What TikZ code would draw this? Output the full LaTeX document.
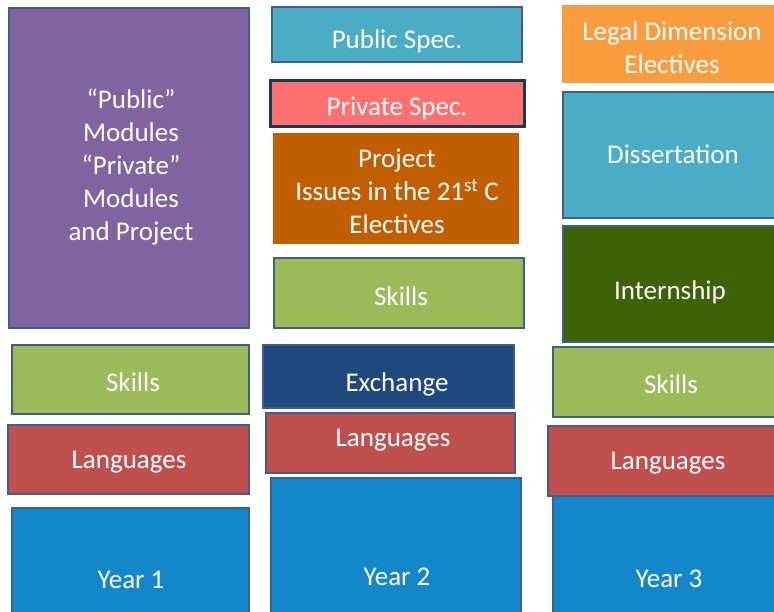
\documentclass[tikz,border=0pt]{standalone}
\usepackage{fontspec}
\setmainfont{Carlito}
\begin{document}
\begin{tikzpicture}[x=1pt,y=-1pt,
  box/.style={draw=bordc,line width=2pt,inner sep=0pt,rectangle},
  plain/.style={draw=none,inner sep=0pt,rectangle},
  txt/.style={text=white,font=\fontsize{27}{33}\selectfont,align=center,inner sep=0pt,yshift=-1.5pt}]
\definecolor{bordc}{HTML}{3C5F8E}
\definecolor{purp}{HTML}{8064A2}
\definecolor{teal}{HTML}{4BACC6}
\definecolor{pink}{HTML}{FF7070}
\definecolor{pinkb}{HTML}{173B57}
\definecolor{projc}{HTML}{C05E00}
\definecolor{skillc}{HTML}{9BBB59}
\definecolor{legalc}{HTML}{F99D3F}
\definecolor{interc}{HTML}{3D6306}
\definecolor{exchc}{HTML}{1F497D}
\definecolor{langc}{HTML}{C0504D}
\definecolor{yearc}{HTML}{1387C9}
\useasboundingbox (0,0) rectangle (774,612);
\clip (0,0) rectangle (774,612);
% column 1
\node[box,fill=purp,minimum width=240,minimum height=320] (pub) at (129,168) {};
\node[box,fill=skillc,minimum width=237,minimum height=69] (sk1) at (130.5,379.5) {};
\node[box,fill=langc,minimum width=241,minimum height=69] (la1) at (128.5,459.5) {};
\node[box,fill=yearc,minimum width=237,minimum height=112] (y1) at (130.5,564) {};
% column 2
\node[box,fill=teal,minimum width=250,minimum height=55] (ps) at (397,34.5) {};
\node[box,draw=pinkb,line width=3pt,fill=pink,minimum width=254,minimum height=46] (pr) at (397,104) {};
\node[plain,fill=projc,minimum width=246,minimum height=111] (pj) at (396,188.5) {};
\node[box,fill=skillc,minimum width=250,minimum height=70] (sk2) at (399,293) {};
\node[box,fill=exchc,minimum width=251,minimum height=63] (ex) at (388.5,376.5) {};
\node[box,fill=langc,minimum width=249,minimum height=60] (la2) at (390.5,443) {};
\node[box,fill=yearc,minimum width=250,minimum height=142] (y2) at (396,549) {};
% column 3
\node[plain,fill=legalc,minimum width=218,minimum height=78] (lg) at (671,44) {};
\node[box,fill=teal,minimum width=217,minimum height=126] (di) at (671.5,155) {};
\node[box,fill=interc,minimum width=217,minimum height=116] (in) at (671.5,284) {};
\node[box,fill=skillc,minimum width=227,minimum height=70] (sk3) at (666.5,382) {};
\node[box,fill=langc,minimum width=232,minimum height=70] (la3) at (664,461) {};
\node[box,fill=yearc,minimum width=227,minimum height=124] (y3) at (666.5,558) {};
% texts
\node[txt] (tpub) at (131,166) {“Public”\\Modules\\“Private”\\Modules\\and Project};
\node[txt] (tsk1) at (133,381) {Skills};
\node[txt] (tla1) at (129,461) {Languages};
\node[txt] (ty1) at (131,578) {Year 1};
\node[txt] (tps) at (397,40) {Public Spec.};
\node[txt] (tpr) at (397,107) {Private Spec.};
\node[txt] (tpj) at (397,190) {Project\\Issues in the 21\textsuperscript{st} C\\Electives};
\node[txt] (tsk2) at (401,295) {Skills};
\node[txt] (tex) at (397,383) {Exchange};
\node[txt] (tla2) at (393,439) {Languages};
\node[txt] (ty2) at (397,575) {Year 2};
\node[txt] (tlg) at (672,46) {Legal Dimension\\Electives};
\node[txt] (tdi) at (673,153) {Dissertation};
\node[txt] (tin) at (670,291) {Internship};
\node[txt] (tsk3) at (671,383) {Skills};
\node[txt] (tla3) at (668,462) {Languages};
\node[txt] (ty3) at (669,577) {Year 3};
\end{tikzpicture}
\end{document}
